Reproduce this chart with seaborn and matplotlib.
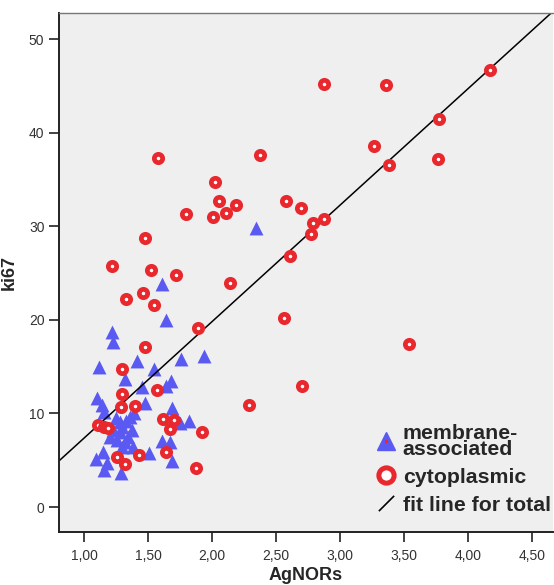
import numpy as np
import pandas as pd
import matplotlib
matplotlib.use("Agg")
import matplotlib.pyplot as plt
from matplotlib.lines import Line2D
from matplotlib.path import Path
from matplotlib.ticker import FuncFormatter, MultipleLocator
from matplotlib.legend_handler import HandlerTuple
import seaborn as sns

# Cytoplasmic cases: AgNORs vs ki67
cyto_agnor = [4.17, 2.87, 3.36, 3.77, 3.26, 3.38, 3.76, 2.375, 1.58, 2.02,
              2.05, 2.19, 2.11, 2.01, 1.80, 1.48, 1.22, 1.52, 1.72, 2.14,
              1.46, 1.33, 1.55, 1.89, 1.48, 1.30, 1.57, 1.30, 1.29, 1.40,
              1.11, 1.16, 1.19, 1.62, 1.70, 1.67, 1.92, 1.26, 1.32, 1.43,
              1.64, 1.875, 2.29, 2.56, 3.54, 2.70, 2.58, 2.69, 2.79, 2.875,
              2.77, 2.61]
cyto_ki67 = [46.7, 45.2, 45.1, 41.5, 38.6, 36.5, 37.2, 37.6, 37.3, 34.7,
             32.7, 32.3, 31.4, 31.0, 31.3, 28.7, 25.8, 25.3, 24.8, 23.9,
             22.9, 22.2, 21.6, 19.1, 17.1, 14.8, 12.5, 12.1, 10.7, 10.8,
             8.8, 8.6, 8.4, 9.4, 9.3, 8.3, 8.0, 5.3, 4.6, 5.6,
             5.9, 4.2, 10.9, 20.2, 17.4, 12.9, 32.7, 32.0, 30.4, 30.8,
             29.2, 26.8]

# Membrane-associated cases
memb_agnor = [2.34, 1.61, 1.64, 1.22, 1.23, 1.12, 1.41, 1.55, 1.76, 1.94,
              1.32, 1.45, 1.68, 1.64, 1.10, 1.14, 1.16, 1.48, 1.69, 1.82,
              1.75, 1.28, 1.23, 1.20, 1.30, 1.34, 1.36, 1.39, 1.26, 1.30,
              1.375, 1.38, 1.32, 1.28, 1.51, 1.61, 1.67, 1.69, 1.09, 1.15,
              1.18, 1.16, 1.29, 1.25, 1.33]
memb_ki67 = [29.8, 23.8, 20.0, 18.7, 17.6, 15.0, 15.6, 14.7, 15.8, 16.1,
             13.7, 12.8, 13.5, 12.9, 11.6, 10.9, 10.2, 11.1, 10.6, 9.2,
             9.0, 9.1, 8.2, 7.5, 8.5, 7.5, 9.6, 10.0, 7.2, 6.4,
             8.2, 6.4, 7.0, 8.0, 5.8, 7.1, 6.9, 4.9, 5.1, 5.9,
             4.7, 4.0, 3.6, 9.5, 9.2]

# Fit line for total
fit_intercept = -5.1
fit_slope = 12.46

red = "#E8282D"
blue = "#5A5AF2"

cyto = pd.DataFrame({"AgNORs": cyto_agnor, "ki67": cyto_ki67})
memb = pd.DataFrame({"AgNORs": memb_agnor, "ki67": memb_ki67})

sns.set_theme(style="white")
plt.rcParams["font.family"] = ["Liberation Sans", "DejaVu Sans"]

fig = plt.figure(figsize=(5.54, 5.85), dpi=100)
ax = fig.add_axes([0.1065, 0.0906, 0.8915, 0.8872])
ax.set_facecolor("#EFEFEF")

sns.scatterplot(data=memb, x="AgNORs", y="ki67", marker="^", s=100,
                color=blue, linewidth=0, ax=ax, legend=False, zorder=2)
ax.axline((0, fit_intercept), slope=fit_slope, color="black", lw=1.1, zorder=2.5)
sns.scatterplot(data=cyto, x="AgNORs", y="ki67", marker="o", s=36,
                facecolor="white", edgecolor=red, linewidth=3.4, ax=ax,
                legend=False, zorder=3)

ax.set_xlim(0.805, 4.66)
ax.set_ylim(-2.67, 52.8)
ax.yaxis.set_major_locator(MultipleLocator(10))
ax.xaxis.set_major_formatter(FuncFormatter(lambda v, p: f"{v:.2f}".replace(".", ",")))
ax.set_xticks(np.arange(1.0, 4.51, 0.5))
ax.tick_params(axis="both", direction="out", length=7, width=1.2, color="#222222",
               labelsize=10, labelcolor="#333333", left=True, bottom=True)
ax.tick_params(axis="x", pad=5)

for side in ["left", "bottom"]:
    ax.spines[side].set_color("#222222")
    ax.spines[side].set_linewidth(1.4)
ax.spines["top"].set_color("#777777")
ax.spines["top"].set_linewidth(1.0)
ax.spines["right"].set_visible(False)

ax.set_xlabel("AgNORs", fontsize=13, fontweight="bold", labelpad=3)
ax.set_ylabel("ki67", fontsize=13, fontweight="bold", labelpad=8)

# Legend
tri = Line2D([], [], marker="^", color=blue, markersize=13, linestyle="none")
dot = Line2D([], [], marker="o", color=red, markersize=1.5, linestyle="none")
ring = Line2D([], [], marker="o", markerfacecolor="white", markeredgecolor=red,
              markeredgewidth=3.6, markersize=11, linestyle="none")
slash = Line2D([], [], marker=Path([(-1, -1), (1, 1)], [Path.MOVETO, Path.LINETO]),
               markeredgecolor="black", markeredgewidth=1.2, markersize=11,
               linestyle="none")
leg = ax.legend([(tri, dot), ring, slash],
                ["membrane-\nassociated", "cytoplasmic", "fit line for total"],
                handler_map={tuple: HandlerTuple(ndivide=1)},
                loc="lower right", bbox_to_anchor=(1.026, 0.005), frameon=False,
                prop={"weight": "bold", "size": 15.3},
                handlelength=0.9, handletextpad=0.35, labelspacing=0.42,
                borderpad=0.2)
for t in leg.get_texts():
    t.set_linespacing(0.78)

fig.savefig("out.png", dpi=100)
